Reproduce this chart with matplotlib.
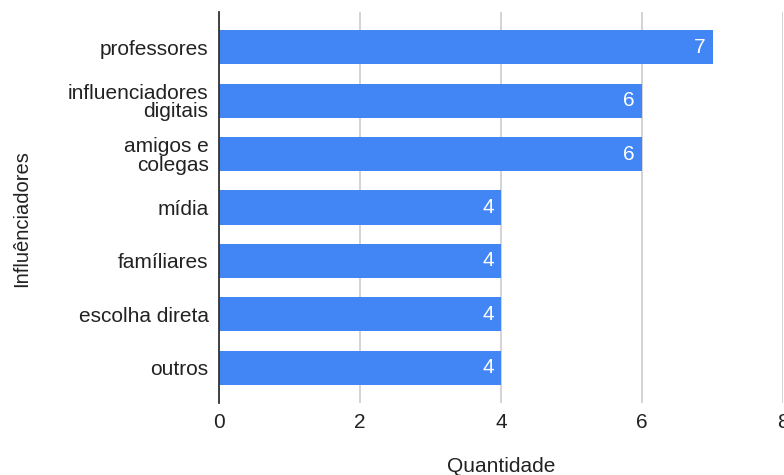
import matplotlib.pyplot as plt

plt.rcParams['font.family'] = ['Liberation Sans', 'DejaVu Sans']

categorias = ['professores', 'influenciadores\ndigitais', 'amigos e\ncolegas',
              'mídia', 'famíliares', 'escolha direta', 'outros']
quantidades = [7, 6, 6, 4, 4, 4, 4]
ticks_x = [0, 2, 4, 6, 8]

azul = '#4285f4'
texto = '#222222'
fs = 15

fig = plt.figure(figsize=(7.84, 4.75), dpi=100)
ax = fig.add_axes([219 / 784, 1 - 403 / 475, 564 / 784, 391 / 475])

pos = list(range(len(categorias)))
ax.barh(pos, quantidades, height=0.64, color=azul, zorder=3)

for p, v in zip(pos, quantidades):
    ax.text(v - 0.1, p, str(v), color='white', ha='right', va='center',
            fontsize=fs, zorder=4)

ax.set_ylim(6.66, -0.66)
ax.set_xlim(0, 8)
ax.set_yticks(pos)
ax.set_yticklabels(categorias, fontsize=fs, color=texto, linespacing=0.97)
ax.set_xticks(ticks_x)
ax.set_xticklabels([str(t) for t in ticks_x], fontsize=fs, color=texto)
ax.tick_params(axis='both', length=0)
ax.tick_params(axis='y', pad=7.5)
ax.tick_params(axis='x', pad=7)

ax.grid(axis='x', color='#cccccc', linewidth=1.2, zorder=0)
for s in ['top', 'right', 'bottom']:
    ax.spines[s].set_visible(False)
ax.spines['left'].set_color('#333333')
ax.spines['left'].set_linewidth(1.3)
ax.spines['left'].set_zorder(5)

fig.text(501 / 784, 1 - 466 / 475, 'Quantidade', ha='center', va='center',
         fontsize=fs, color=texto)
fig.text(22 / 784, 1 - 219 / 475, 'Influênciadores', ha='center', va='center',
         rotation=90, fontsize=14.5, color=texto)

fig.savefig('out.png', dpi=100)
